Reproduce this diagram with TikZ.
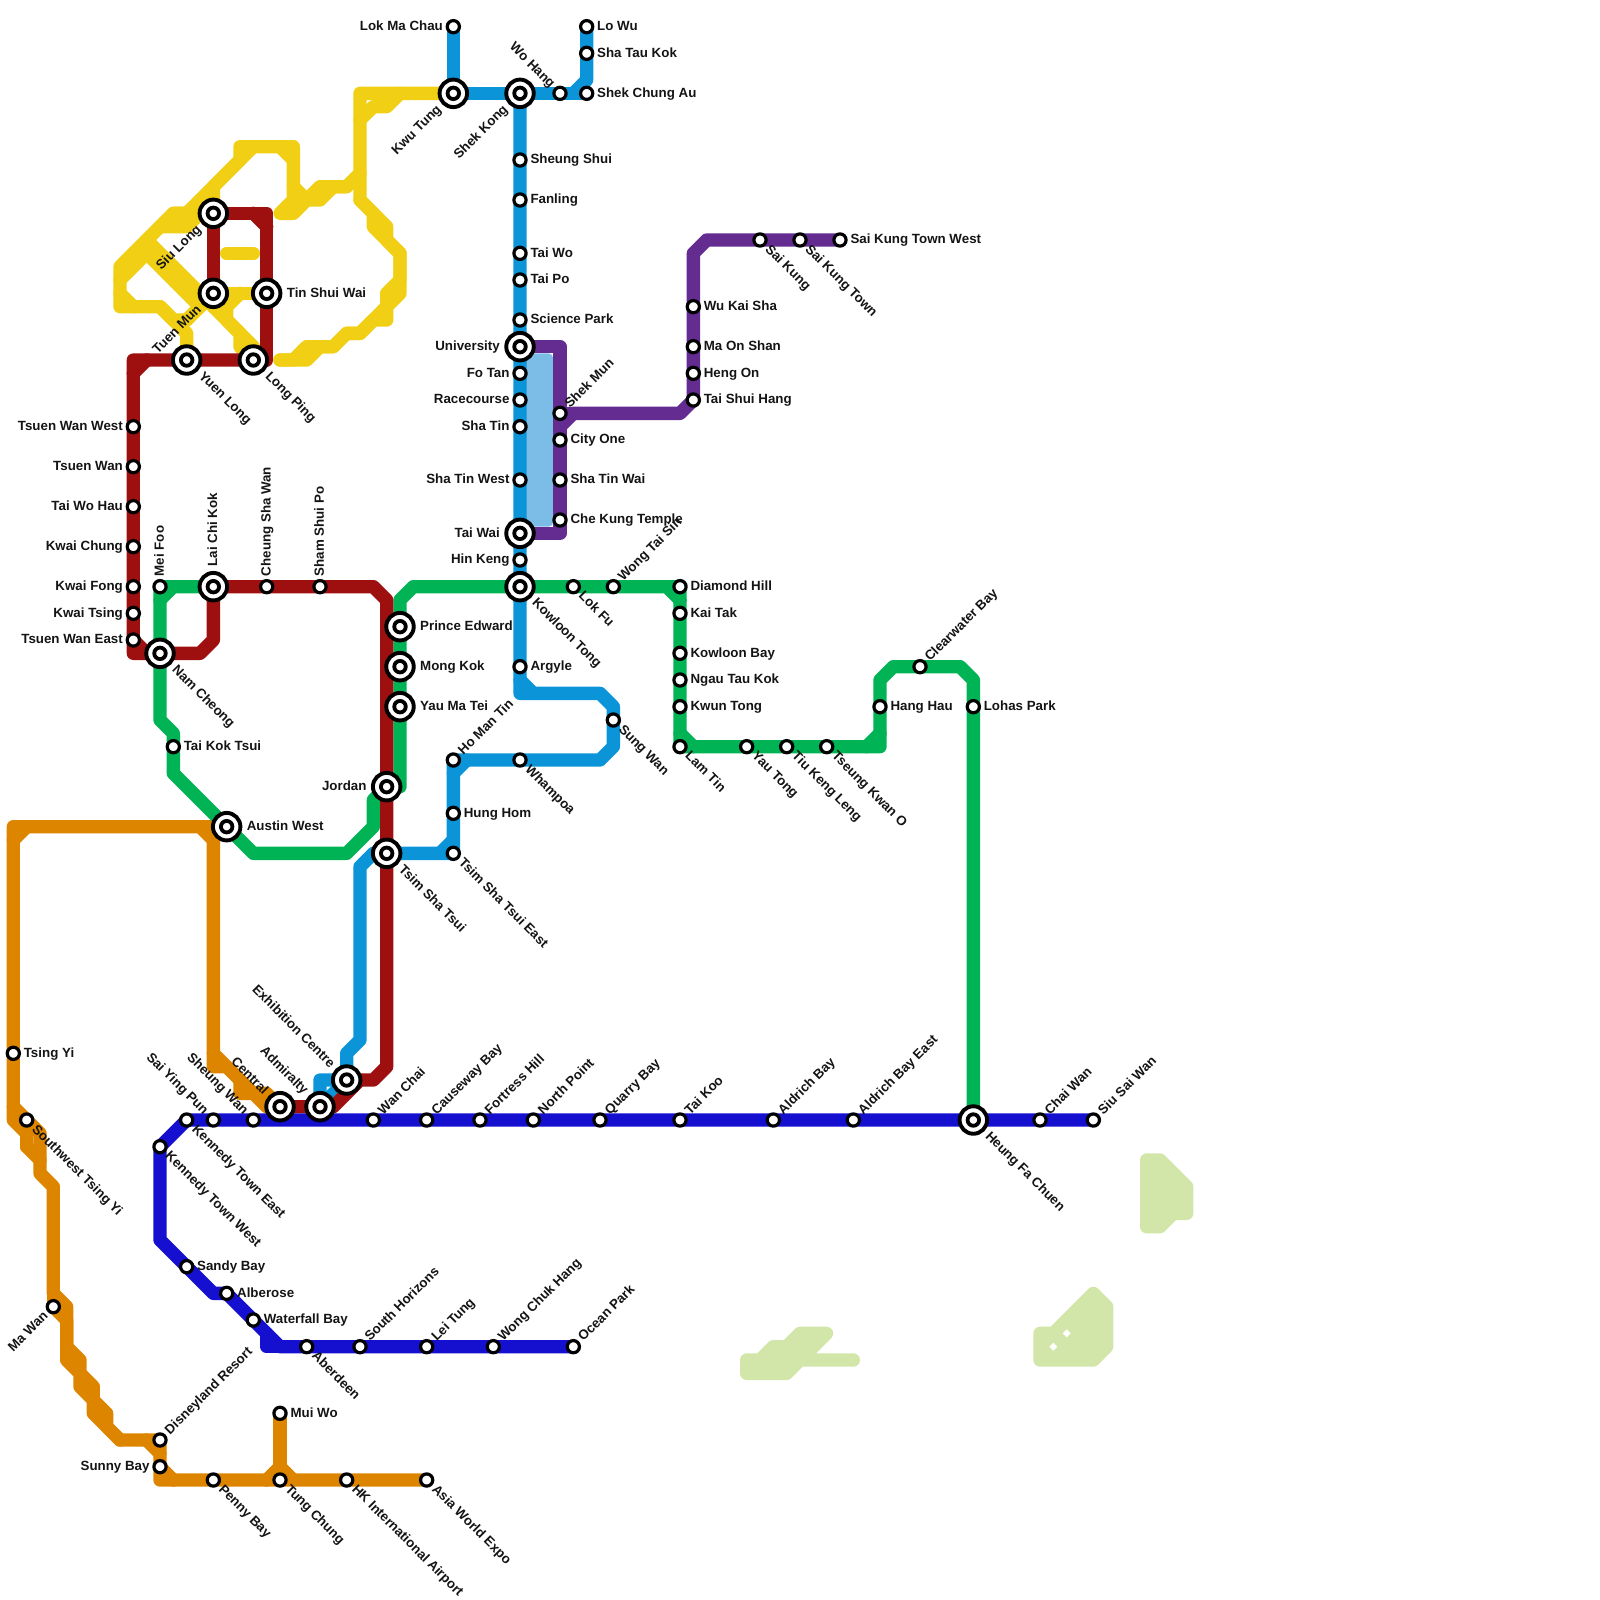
\documentclass[tikz,border=0pt]{standalone}
\usepackage{fontspec}
\setmainfont{Liberation Sans}
\usetikzlibrary{backgrounds}
\definecolor{cred}{HTML}{9E1010}
\definecolor{cblue}{HTML}{0B95D8}
\definecolor{cgreen}{HTML}{00B354}
\definecolor{corange}{HTML}{DE8500}
\definecolor{cpurple}{HTML}{642B90}
\definecolor{cnavy}{HTML}{1510D0}
\definecolor{cyellow}{HTML}{F0CF14}
\definecolor{csky}{HTML}{7CBDE8}
\definecolor{cland}{HTML}{D1E6A8}
\tikzset{
  tl/.style={line width=13.33pt,line join=round,line cap=round},
  smallst/.style={circle,draw=black,fill=white,line width=3.2pt,minimum size=12.2pt,inner sep=0pt,outer sep=0pt},
  bigst/.style={circle,draw=black,fill=white,line width=3.9pt,minimum size=27.5pt,inner sep=0pt,outer sep=0pt},
  innerst/.style={circle,draw=black,fill=white,line width=3.8pt,minimum size=11.5pt,inner sep=0pt,outer sep=0pt},
  lbl/.style={font=\fontsize{13.33pt}{14pt}\selectfont\bfseries,inner sep=0pt,text=black!92},
  dE/.style={shift={(0:#1)},yshift=-1.2pt,anchor=mid west},
  dW/.style={shift={(180:#1)},yshift=-1.2pt,anchor=mid east},
  dNE/.style={shift={(45:#1)},rotate=45,yshift=-1.2pt,anchor=mid west},
  dSE/.style={shift={(-45:#1)},rotate=-45,yshift=-1.2pt,anchor=mid west},
  dSW/.style={shift={(225:#1)},rotate=45,yshift=-1.2pt,anchor=mid east},
  dNW/.style={shift={(135:#1)},rotate=-45,yshift=-1.2pt,anchor=mid east},
  dN/.style={shift={(90:#1)},rotate=90,yshift=-1.2pt,anchor=mid west},
  landpoly/.style={fill=cland,draw=cland,line width=13.33pt,line join=round,line cap=round}
}
\newcommand\mystn[4]{\node[smallst] (#1) at (#2) {}; \node[lbl,#4=10.3pt] (#1-l) at (#2) {#3};}
\newcommand\myict[4]{\node[bigst] (#1) at (#2) {}; \node[innerst] (#1-i) at (#2) {}; \node[lbl,#4=20pt] (#1-l) at (#2) {#3};}
\begin{document}
\begin{tikzpicture}[x=13.3333pt,y=-13.3333pt]
\useasboundingbox (0,0) rectangle (120,120);
% stations: blue
\mystn{lokmachau}{34,2}{Lok Ma Chau}{dW}
\myict{kwutung}{34,7}{Kwu Tung}{dSW}
\myict{shekkong}{39,7}{Shek Kong}{dSW}
\mystn{wohang}{42,7}{Wo Hang}{dNW}
\mystn{lowu}{44,2}{Lo Wu}{dE}
\mystn{shataukok}{44,4}{Sha Tau Kok}{dE}
\mystn{shekchungau}{44,7}{Shek Chung Au}{dE}
\mystn{sheungshui}{39,12}{Sheung Shui}{dE}
\mystn{fanling}{39,15}{Fanling}{dE}
\mystn{taiwo}{39,19}{Tai Wo}{dE}
\mystn{taipo}{39,21}{Tai Po}{dE}
\mystn{sciencepark}{39,24}{Science Park}{dE}
\myict{university}{39,26}{University}{dW}
\mystn{fotan}{39,28}{Fo Tan}{dW}
\mystn{racecourse}{39,30}{Racecourse}{dW}
\mystn{shatin}{39,32}{Sha Tin}{dW}
\mystn{shatinwest}{39,36}{Sha Tin West}{dW}
\myict{taiwai}{39,40}{Tai Wai}{dW}
\mystn{hinkeng}{39,42}{Hin Keng}{dW}
\myict{kowloontong}{39,44}{Kowloon Tong}{dSE}
\mystn{argyle}{39,50}{Argyle}{dE}
\mystn{sungwan}{46,54}{Sung Wan}{dSE}
\mystn{whampoa}{39,57}{Whampoa}{dSE}
\mystn{homantin}{34,57}{Ho Man Tin}{dNE}
\mystn{hunghom}{34,61}{Hung Hom}{dE}
\mystn{tsteast}{34,64}{Tsim Sha Tsui East}{dSE}
\myict{tst}{29,64}{Tsim Sha Tsui}{dSE}
\myict{exhibition}{26,81}{Exhibition Centre}{dNW}
\myict{admiralty}{24,83}{Admiralty}{dNW}
% purple
\mystn{shekmun}{42,31}{Shek Mun}{dNE}
\mystn{cityone}{42,33}{City One}{dE}
\mystn{shatinwai}{42,36}{Sha Tin Wai}{dE}
\mystn{chekung}{42,39}{Che Kung Temple}{dE}
\mystn{taishuihang}{52,30}{Tai Shui Hang}{dE}
\mystn{hengon}{52,28}{Heng On}{dE}
\mystn{maonshan}{52,26}{Ma On Shan}{dE}
\mystn{wukaisha}{52,23}{Wu Kai Sha}{dE}
\mystn{saikung}{57,18}{Sai Kung}{dSE}
\mystn{saikungtown}{60,18}{Sai Kung Town}{dSE}
\mystn{saikungwest}{63,18}{Sai Kung Town West}{dE}
% green
\mystn{meifoo}{12,44}{Mei Foo}{dN}
\myict{laichikok}{16,44}{Lai Chi Kok}{dN}
\myict{namcheong}{12,49}{Nam Cheong}{dSE}
\mystn{taikoktsui}{13,56}{Tai Kok Tsui}{dE}
\myict{austinwest}{17,62}{Austin West}{dE}
\myict{jordan}{29,59}{Jordan}{dW}
\myict{princeedward}{30,47}{Prince Edward}{dE}
\myict{mongkok}{30,50}{Mong Kok}{dE}
\myict{yaumatei}{30,53}{Yau Ma Tei}{dE}
\mystn{lokfu}{43,44}{Lok Fu}{dSE}
\mystn{wongtaisin}{46,44}{Wong Tai Sin}{dNE}
\mystn{diamondhill}{51,44}{Diamond Hill}{dE}
\mystn{kaitak}{51,46}{Kai Tak}{dE}
\mystn{kowloonbay}{51,49}{Kowloon Bay}{dE}
\mystn{ngautaukok}{51,51}{Ngau Tau Kok}{dE}
\mystn{kwuntong}{51,53}{Kwun Tong}{dE}
\mystn{lamtin}{51,56}{Lam Tin}{dSE}
\mystn{yautong}{56,56}{Yau Tong}{dSE}
\mystn{tiukengleng}{59,56}{Tiu Keng Leng}{dSE}
\mystn{tseungkwano}{62,56}{Tseung Kwan O}{dSE}
\mystn{hanghau}{66,53}{Hang Hau}{dE}
\mystn{clearwater}{69,50}{Clearwater Bay}{dNE}
\mystn{lohaspark}{73,53}{Lohas Park}{dE}
\myict{heungfachuen}{73,84}{Heung Fa Chuen}{dSE}
% navy
\mystn{chaiwan}{78,84}{Chai Wan}{dNE}
\mystn{siusaiwan}{82,84}{Siu Sai Wan}{dNE}
\mystn{kennedyeast}{14,84}{Kennedy Town East}{dSE}
\mystn{saiyingpun}{16,84}{Sai Ying Pun}{dNW}
\mystn{sheungwan}{19,84}{Sheung Wan}{dNW}
\mystn{wanchai}{28,84}{Wan Chai}{dNE}
\mystn{causeway}{32,84}{Causeway Bay}{dNE}
\mystn{fortress}{36,84}{Fortress Hill}{dNE}
\mystn{northpoint}{40,84}{North Point}{dNE}
\mystn{quarrybay}{45,84}{Quarry Bay}{dNE}
\mystn{taikoo}{51,84}{Tai Koo}{dNE}
\mystn{aldrich}{58,84}{Aldrich Bay}{dNE}
\mystn{aldricheast}{64,84}{Aldrich Bay East}{dNE}
\mystn{kennedywest}{12,86}{Kennedy Town West}{dSE}
\mystn{sandybay}{14,95}{Sandy Bay}{dE}
\mystn{alberose}{17,97}{Alberose}{dE}
\mystn{waterfall}{19,99}{Waterfall Bay}{dE}
\mystn{aberdeen}{23,101}{Aberdeen}{dSE}
\mystn{southhorizons}{27,101}{South Horizons}{dNE}
\mystn{leitung}{32,101}{Lei Tung}{dNE}
\mystn{wongchukhang}{37,101}{Wong Chuk Hang}{dNE}
\mystn{oceanpark}{43,101}{Ocean Park}{dNE}
% red
\mystn{tsuenwanwest}{10,32}{Tsuen Wan West}{dW}
\mystn{tsuenwan}{10,35}{Tsuen Wan}{dW}
\mystn{taiwohau}{10,38}{Tai Wo Hau}{dW}
\mystn{kwaichung}{10,41}{Kwai Chung}{dW}
\mystn{kwaifong}{10,44}{Kwai Fong}{dW}
\mystn{kwaitsing}{10,46}{Kwai Tsing}{dW}
\mystn{tsuenwaneast}{10,48}{Tsuen Wan East}{dW}
\mystn{cheungshawan}{20,44}{Cheung Sha Wan}{dN}
\mystn{shamshuipo}{24,44}{Sham Shui Po}{dN}
\myict{yuenlong}{14,27}{Yuen Long}{dSE}
\myict{longping}{19,27}{Long Ping}{dSE}
\myict{tinshuiwai}{20,22}{Tin Shui Wai}{dE}
\myict{siulong}{16,16}{Siu Long}{dSW}
\myict{tuenmun}{16,22}{Tuen Mun}{dSW}
\myict{central}{21,83}{Central}{dNW}
% orange
\mystn{tsingyi}{1,79}{Tsing Yi}{dE}
\mystn{swtsingyi}{2,84}{Southwest Tsing Yi}{dSE}
\mystn{mawan}{4,98}{Ma Wan}{dSW}
\mystn{disneyland}{12,108}{Disneyland Resort}{dNE}
\mystn{sunnybay}{12,110}{Sunny Bay}{dW}
\mystn{pennybay}{16,111}{Penny Bay}{dSE}
\mystn{tungchung}{21,111}{Tung Chung}{dSE}
\mystn{muiwo}{21,106}{Mui Wo}{dE}
\mystn{airport}{26,111}{HK International Airport}{dSE}
\mystn{asiaworld}{32,111}{Asia World Expo}{dSE}
\begin{scope}[on background layer]
% land
\path[landpoly] (86,87)--(87,87)--(89,89)--(89,91)--(88,91)--(87,92)--(86,92)--cycle;
\path[landpoly] (78,100)--(79,100)--(82,97)--(83,98)--(83,101)--(82,102)--(78,102)--cycle;
\path[landpoly] (56,102)--(57,102)--(58,101)--(59,101)--(60,100)--(62,100)--(60,102)--(64,102)--(60,102)--(59,103)--(56,103)--cycle;
\fill[white] (80,99.7)--(80.3,100)--(80,100.3)--(79.7,100)--cycle;
\fill[white] (79,100.7)--(79.3,101)--(79,101.3)--(78.7,101)--cycle;
% sky basin
\fill[csky,rounded corners=5pt] (39,26.5)--(41.5,26.5)--(41.5,39.5)--(39,39.5)--cycle;
% yellow
\begin{scope}[every path/.style={draw=cyellow,tl}]
\path (kwutung.center)--(27,7)--(27,15)--(29,17)--(29,18)--(30,19)--(30,22)--(29,23)--(29,24)--(28,24)--(27,25)--(26,25)--(25,26)--(24,26)--(23,27)--(21,27);
\path (27,15)--(28,16)--(28,17)--(30,19)--(30,21)--(29,22)--(29,23)--(27,25)--(26,25)--(25,26)--(23,26)--(22,27)--(21,27);
\path (27,9)--(28,8)--(29,8)--(30,7);
\path (18,12)--(18,11)--(22,11)--(22,15)--(21,16)--(22,16)--(23,15)--(24,15)--(25,14)--(26,14)--(27,13);
\path (21,11)--(22,12);
\path (22,14)--(23,15)--(24,14)--(26,14);
\path (18,12)--(14,16)--(13,16)--(9,20)--(9,23)--(12,23)--(14,25)--(yuenlong.center);
\path (19,11)--(16,14)--(siulong.center)--(13,16);
\path (9,21)--(11,19);
\path (12,17)--(14,17)--(15,16);
\path (11,18)--(16,23)--(tuenmun.center);
\path (11,19)--(15,23);
\path (9,22)--(10,23);
\path (12,23)--(13,24)--(14,24);
\path (14,24)--(tuenmun.center);
\path (tuenmun.center)--(tinshuiwai.center);
\path (18,22)--(17,23)--(17,24)--(19,26)--(longping.center);
\path (16,23)--(18,25)--(18,26)--(longping.center);
\path (17,19)--(19,19);
\end{scope}
% orange
\begin{scope}[every path/.style={draw=corange,tl}]
\path (austinwest.center)--(1,62)--(tsingyi.center)--(1,83)--(3,85)--(3,88)--(4,89)--(4,97)--(5,98)--(5,101)--(6,102)--(6,103)--(7,104)--(7,105)--(8,106)--(8,107)--(9,108)--(disneyland.center)--(12,111)--(asiaworld.center);
\path (1,63)--(2,62);
\path (1,83)--(1,84)--(2,85)--(2,86)--(3,87);
\path (swtsingyi.center)--(2,86);
\path (mawan.center)--(5,99)--(5,102)--(6,103)--(6,104)--(7,105)--(7,106)--(9,108);
\path (mawan.center)--(4,97);
\path (11,108)--(12,109);
\path (sunnybay.center)--(13,111);
\path (muiwo.center)--(tungchung.center);
\path (20,111)--(21,110)--(22,111);
\path (15,62)--(16,63)--(16,79)--(20,83)--(central.center);
\path (16,79)--(16,80)--(17,80)--(18,81)--(18,82)--(20,82)--(central.center);
\end{scope}
% green
\begin{scope}[every path/.style={draw=cgreen,tl}]
\path (laichikok.center)--(meifoo.center)--(namcheong.center)--(12,54)--(13,55)--(taikoktsui.center)--(13,58)--(austinwest.center)--(19,64)--(26,64)--(28,62)--(28,60)--(jordan.center);
\path (12,45)--(13,44);
\path (jordan.center)--(30,59)--(yaumatei.center)--(princeedward.center)--(30,45)--(31,44)--(kowloontong.center)--(diamondhill.center)--(lamtin.center)--(66,56)--(hanghau.center)--(66,51)--(67,50)--(72,50)--(73,51)--(heungfachuen.center);
\path (50,44)--(51,45);
\path (51,55)--(52,56);
\path (65,56)--(66,55);
\end{scope}
% blue
\begin{scope}[every path/.style={draw=cblue,tl}]
\path (lokmachau.center)--(kwutung.center)--(shekchungau.center);
\path (43,7)--(44,6)--(lowu.center);
\path (shekkong.center)--(kowloontong.center)--(39,52)--(45,52)--(46,53)--(46,56)--(45,57)--(homantin.center)--(tsteast.center)--(tst.center)--(28,64)--(27,65)--(27,78)--(26,79)--(exhibition.center)--(24,81)--(admiralty.center);
\path (39,51)--(40,52);
\path (34,58)--(35,57);
\path (33,64)--(34,63);
\path (admiralty.center)--(exhibition.center);
\end{scope}
% purple
\begin{scope}[every path/.style={draw=cpurple,tl}]
\path (university.center)--(42,26)--(42,40)--(taiwai.center);
\path (42,32)--(43,31)--(51,31)--(taishuihang.center)--(52,19)--(53,18)--(saikungwest.center);
\path (shekmun.center)--(43,31);
\end{scope}
% red
\begin{scope}[every path/.style={draw=cred,tl}]
\path (longping.center)--(yuenlong.center)--(10,27)--(10,49)--(15,49)--(16,48)--(laichikok.center)--(28,44)--(29,45)--(29,80)--(28,81)--(27,81)--(25,83)--(central.center);
\path (10,28)--(11,27);
\path (10,48)--(11,49);
\path (longping.center)--(20,27)--(20,16)--(siulong.center)--(tuenmun.center);
\path (19,16)--(20,17);
\end{scope}
% navy
\begin{scope}[every path/.style={draw=cnavy,tl}]
\path (siusaiwan.center)--(kennedyeast.center)--(kennedywest.center)--(12,93)--(16,97)--(alberose.center)--(21,101)--(oceanpark.center);
\path (20,100)--(20,101)--(21,101);
\end{scope}
\end{scope}
\end{tikzpicture}
\end{document}
